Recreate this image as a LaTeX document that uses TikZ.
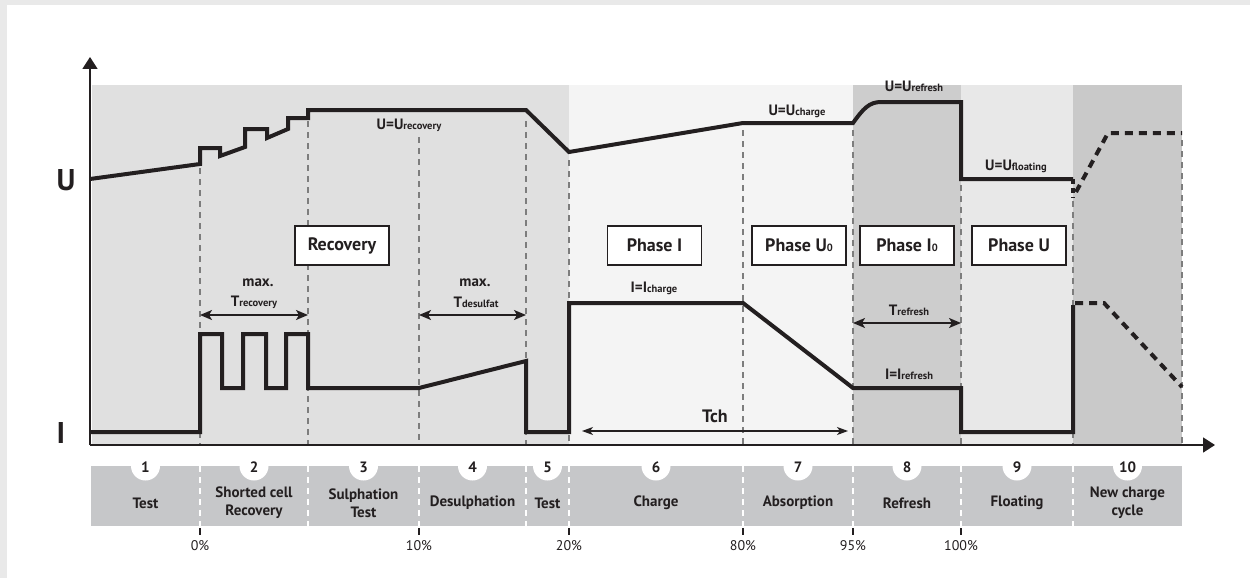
\documentclass[tikz,border=0pt]{standalone}
\usepackage{fontspec}
\setmainfont{PT Sans}
\usetikzlibrary{arrows.meta}

\definecolor{ink}{RGB}{35,31,32}
\definecolor{framegray}{RGB}{233,233,233}
\definecolor{zoneA}{RGB}{224,224,224}
\definecolor{zoneB}{RGB}{244,244,244}
\definecolor{zoneC}{RGB}{205,205,205}
\definecolor{zoneD}{RGB}{232,232,232}
\definecolor{zoneE}{RGB}{201,201,201}
\definecolor{bargray}{RGB}{198,199,201}
\definecolor{guidegray}{RGB}{125,125,125}

% smaller index text sitting on the baseline
\newcommand\lowtxt[1]{{\fontsize{10.5}{10.5}\selectfont #1}}

\tikzset{
  curve/.style={line width=4pt, ink, line join=miter},
  guide/.style={guidegray, line width=1.1pt, dash pattern=on 6pt off 5pt},
  bardiv/.style={white, line width=1.2pt, dash pattern=on 6pt off 5pt},
  axis/.style={ink, line width=1.6pt, -{Triangle[length=12pt,width=15pt]}},
  dim/.style={ink, line width=1.6pt, {Stealth[length=12pt,width=10pt,inset=3pt]}-{Stealth[length=12pt,width=10pt,inset=3pt]}},
  thindim/.style={ink, line width=1.1pt, {Stealth[length=11pt,width=8pt,inset=3pt]}-{Stealth[length=11pt,width=8pt,inset=3pt]}},
  phasebox/.style={draw=ink, line width=1.5pt, fill=white, minimum width=94pt, minimum height=39pt, inner sep=0pt, font=\fontsize{18}{20}\selectfont\bfseries, text=ink},
  lbl/.style={inner sep=0pt, text=ink, font=\fontsize{15}{17}\selectfont\bfseries},
  barlbl/.style={inner sep=0pt, text=ink, align=center, font=\fontsize{15}{18}\selectfont\bfseries},
  numlbl/.style={inner sep=0pt, text=ink, font=\fontsize{15}{17}\selectfont\bfseries},
  pct/.style={inner sep=0pt, text=ink, font=\fontsize{14}{16}\selectfont},
  axlbl/.style={inner sep=0pt, text=ink, font=\fontsize{30}{32}\selectfont\bfseries},
}

\begin{document}
\begin{tikzpicture}[x=1pt, y=-1pt]
\useasboundingbox (0,0) rectangle (1250,578);

% page frame
\fill[framegray] (0,0) rectangle (1250,578);
\fill[white] (7,5) rectangle (1250,578);

% phase zones
\fill[zoneA] (92,85) rectangle (569,445);
\fill[zoneB] (569,85) rectangle (853,445);
\fill[zoneC] (853,85) rectangle (961,445);
\fill[zoneD] (961,85) rectangle (1073,445);
\fill[zoneE] (1073,85) rectangle (1182,445);

% phase boundaries
\foreach \xx/\yy in {200/168, 308/121, 419/137, 526/121, 569/160, 743/130, 853/130, 961/185, 1073/201, 1182/140}
  \draw[guide] (\xx,\yy) -- (\xx,445);

% axes
\coordinate (origin) at (90,445);
\coordinate (ytip) at (90,57);
\coordinate (xtip) at (1215,445);
\draw[axis] (origin) -- (ytip);
\draw[axis] (origin) -- (xtip);
\node[axlbl] (ulabel) at (66,180) {U};
\node[axlbl] (ilabel) at (61,433) {I};

% voltage curve
\draw[curve] (90,179) -- (200,164) -- (200,148) -- (220,148) -- (220,156)
  -- (245,147) -- (245,129) -- (267,129) -- (267,138) -- (288,129)
  -- (288,118) -- (308,118) -- (308,110) -- (526,110) -- (569,152)
  -- (743,123) -- (853,123) .. controls (863,109) and (869,102) .. (881,102)
  -- (961,102) -- (961,179) -- (1073,179);
\draw[ink, line width=4pt, dash pattern=on 5pt off 4pt] (1073,179) -- (1073,198);
\draw[ink, line width=4pt, dash pattern=on 8pt off 6pt] (1076,192) -- (1108,133) -- (1182,133);

% current curve
\draw[curve] (90,432) -- (200,432) -- (200,334) -- (222,334) -- (222,388)
  -- (243,388) -- (243,334) -- (266,334) -- (266,388) -- (286,388)
  -- (286,334) -- (308,334) -- (308,388) -- (419,388) -- (526,361)
  -- (526,432) -- (569,432) -- (569,303) -- (743,303) -- (853,388)
  -- (961,388) -- (961,432) -- (1073,432) -- (1073,305);
\draw[ink, line width=4pt, dash pattern=on 8pt off 6pt] (1075,303) -- (1104,303) -- (1182,387);

% curve labels
\node[lbl] (urec) at (409,125) {U=U\lowtxt{recovery}};
\node[lbl] (uchg) at (797,111) {U=U\lowtxt{charge}};
\node[lbl] (uref) at (914,86) {U=U\lowtxt{refresh}};
\node[lbl] (uflt) at (1016,166) {U=U\lowtxt{floating}};
\node[lbl] (ichg) at (654,288) {I=I\lowtxt{charge}};
\node[lbl] (iref) at (909,374) {I=I\lowtxt{refresh}};

% phase boxes
\node[phasebox] (bRec) at (342,245.5) {Recovery};
\node[phasebox] (bP1) at (654.5,245.5) {Phase I};
\node[phasebox] (bP2) at (799,245.5) {Phase U\lowtxt{0}};
\node[phasebox] (bP3) at (907,245.5) {Phase I\lowtxt{0}};
\node[phasebox] (bP4) at (1019,245.5) {Phase U};

% time spans
\coordinate (trL) at (200,315); \coordinate (trR) at (308,315);
\coordinate (tdL) at (419,315); \coordinate (tdR) at (526,315);
\coordinate (tfL) at (853,323); \coordinate (tfR) at (961,323);
\coordinate (tcL) at (582,431); \coordinate (tcR) at (848,431);
\draw[dim] (trL) -- (trR);
\draw[dim] (tdL) -- (tdR);
\draw[dim] (tfL) -- (tfR);
\draw[thindim] (tcL) -- (tcR);
\node[lbl] (mx1) at (258,283) {max.};
\node[lbl] (trec) at (254,302) {T\lowtxt{recovery}};
\node[lbl] (mx2) at (475,283) {max.};
\node[lbl] (tdes) at (476,302) {T\lowtxt{desulfat}};
\node[lbl] (tref) at (909,310) {T\lowtxt{refresh}};
\node[lbl, font=\fontsize{18}{20}\selectfont\bfseries] (tch) at (715,416) {Tch};

% stage bar
\fill[bargray] (91,466) rectangle (1182,526);
\foreach \xx in {200,308,419,526,569,743,853,961,1073}
  \draw[bardiv] (\xx,466) -- (\xx,526);
\foreach \n/\xx in {1/145.5, 2/254, 3/363.5, 4/472.5, 5/547.5, 6/656, 7/798, 8/907, 9/1017, 10/1127.5} {
  \fill[white] (\xx,466) circle (14.5);
  \node[numlbl] (num\n) at (\xx,467) {\n};
}
\node[barlbl] (s1) at (145.5,503) {Test};
\node[barlbl] (s2) at (254,503) {Shorted cell\\Recovery};
\node[barlbl] (s3) at (363.5,503) {Sulphation\\Test};
\node[barlbl] (s4) at (472.5,503) {Desulphation};
\node[barlbl] (s5) at (547.5,503) {Test};
\node[barlbl] (s6) at (656,503) {Charge};
\node[barlbl] (s7) at (798,503) {Absorption};
\node[barlbl] (s8) at (907,503) {Refresh};
\node[barlbl] (s9) at (1017,503) {Floating};
\node[barlbl] (s10) at (1127.5,503) {New charge\\cycle};

% charge-level scale
\foreach \xx/\p in {200/0, 419/10, 569/20, 743/80, 853/95, 961/100} {
  \draw[ink, line width=1.2pt] (\xx,528) -- (\xx,535);
  \node[pct] (pct\p) at (\xx,546) {\p\%};
}
\end{tikzpicture}
\end{document}
